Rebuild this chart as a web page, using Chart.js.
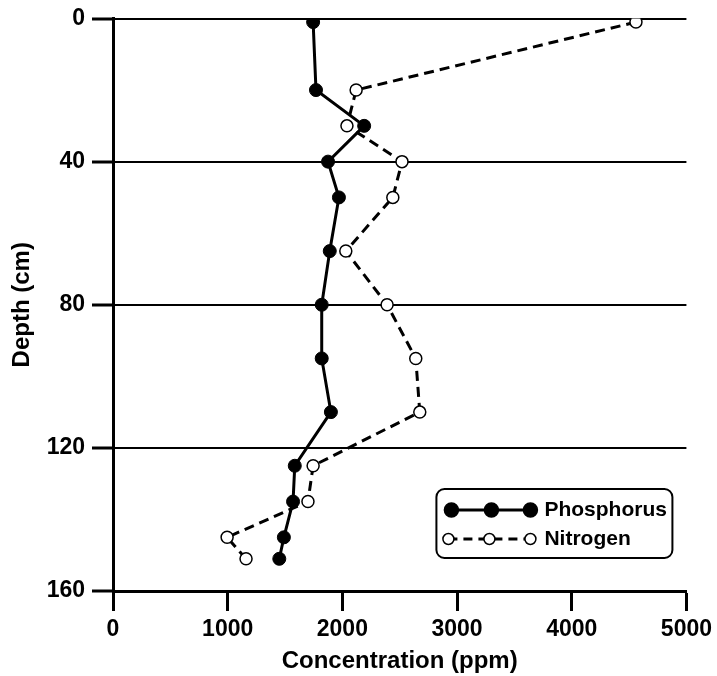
<!DOCTYPE html>
<html lang="en">
<head>
    <meta charset="UTF-8">
    <title>Concentration vs Depth</title>
    <script src="https://cdn.jsdelivr.net/npm/chart.js"></script>
    <style>
        html, body { margin: 0; padding: 0; background: #fff; }
        .chart-container { width: 717px; height: 676px; position: relative; }
    </style>
</head>
<body>
    <div class="chart-container">
        <canvas id="depthChart"></canvas>
    </div>

    <script>
        // Sample depths (cm) and concentrations (ppm)
        const depths = [1, 20, 30, 40, 50, 65, 80, 95, 110, 125, 135, 145, 151];
        const phosphorus = [1745, 1770, 2190, 1875, 1970, 1890, 1820, 1820, 1900, 1585, 1570, 1490, 1450];
        const nitrogen = [4560, 2120, 2040, 2520, 2440, 2030, 2390, 2640, 2675, 1745, 1700, 995, 1160];
        const xTicks = [0, 1000, 2000, 3000, 4000, 5000];
        const yTicks = [0, 40, 80, 120, 160];

        const FONT = "'Liberation Sans', Arial, sans-serif";

        function toPoints(values) {
            return values.map((v, i) => ({ x: v, y: depths[i] }));
        }

        // legend box drawn by hand: line with three markers per series
        const boxLegend = {
            id: "boxLegend",
            afterDraw(chart) {
                const ctx = chart.ctx;
                const a = chart.chartArea;
                const left = a.right - 250, top = a.bottom - 102;
                const w = 236, h = 69;
                ctx.save();
                ctx.lineWidth = 2;
                ctx.strokeStyle = "#000";
                ctx.beginPath();
                ctx.roundRect(left, top, w, h, 8);
                ctx.stroke();

                const rows = [
                    { label: "Phosphorus", y: top + 21, xs: [left + 15, left + 55, left + 94], dash: [], fill: "#000", r: 7 },
                    { label: "Nitrogen", y: top + 50, xs: [left + 12, left + 53, left + 94], dash: [9, 6], fill: "#fff", r: 5.5 }
                ];
                rows.forEach(row => {
                    ctx.setLineDash(row.dash);
                    ctx.lineWidth = 3;
                    ctx.beginPath();
                    ctx.moveTo(row.xs[0], row.y);
                    ctx.lineTo(row.xs[2], row.y);
                    ctx.stroke();
                    ctx.setLineDash([]);
                    row.xs.forEach(x => {
                        ctx.beginPath();
                        ctx.arc(x, row.y, row.r, 0, Math.PI * 2);
                        ctx.fillStyle = row.fill;
                        ctx.fill();
                        ctx.lineWidth = 1.5;
                        ctx.stroke();
                    });
                    ctx.fillStyle = "#000";
                    ctx.font = "bold 21px " + FONT;
                    ctx.textBaseline = "middle";
                    ctx.fillText(row.label, left + 108, row.y);
                });
                ctx.restore();
            }
        };

        const ctx = document.getElementById("depthChart").getContext("2d");
        new Chart(ctx, {
            type: "scatter",
            data: {
                datasets: [
                    {
                        label: "Phosphorus",
                        data: toPoints(phosphorus),
                        showLine: true,
                        borderColor: "#000",
                        borderWidth: 3,
                        backgroundColor: "#000",
                        pointRadius: 6.5,
                        pointBorderWidth: 1,
                        pointBorderColor: "#000",
                        pointBackgroundColor: "#000"
                    },
                    {
                        label: "Nitrogen",
                        data: toPoints(nitrogen),
                        showLine: true,
                        borderColor: "#000",
                        borderWidth: 3,
                        borderDash: [10, 6],
                        pointRadius: 6,
                        pointBorderWidth: 1.5,
                        pointBorderColor: "#000",
                        pointBackgroundColor: "#fff"
                    }
                ]
            },
            options: {
                responsive: true,
                maintainAspectRatio: false,
                animation: false,
                layout: { padding: { top: 3, right: 28, bottom: 0, left: 0 } },
                plugins: {
                    legend: { display: false },
                    tooltip: { enabled: false }
                },
                scales: {
                    x: {
                        type: "linear",
                        min: 0,
                        max: 5000,
                        afterBuildTicks: s => { s.ticks = xTicks.map(v => ({ value: v })); },
                        afterFit: s => { s.height = 85; },
                        border: { display: true, width: 3, color: "#000" },
                        grid: { drawOnChartArea: false, drawTicks: true, tickLength: 20, tickWidth: 3, tickColor: "#000" },
                        ticks: {
                            color: "#000",
                            font: { family: FONT, size: 23, weight: "bold" },
                            padding: 5,
                            maxRotation: 0,
                            callback: v => String(v)
                        },
                        title: { display: true, text: "Concentration (ppm)", color: "#000", font: { family: FONT, size: 24, weight: "bold" }, padding: { top: 0, bottom: 0 } }
                    },
                    y: {
                        type: "linear",
                        reverse: true,
                        min: 0,
                        max: 160,
                        afterBuildTicks: s => { s.ticks = yTicks.map(v => ({ value: v })); },
                        afterFit: s => { s.width = 113; },
                        border: { display: true, width: 3, color: "#000" },
                        grid: { color: "#000", lineWidth: 2, tickLength: 21, tickWidth: 3, tickColor: "#000" },
                        ticks: {
                            color: "#000",
                            font: { family: FONT, size: 23, weight: "bold", lineHeight: 1 },
                            padding: 7,
                            callback: v => String(v)
                        },
                        title: { display: true, text: "Depth (cm)", color: "#000", font: { family: FONT, size: 24, weight: "bold" }, padding: { top: 8, bottom: 0 } }
                    }
                }
            },
            plugins: [boxLegend]
        });
    </script>
</body>
</html>
